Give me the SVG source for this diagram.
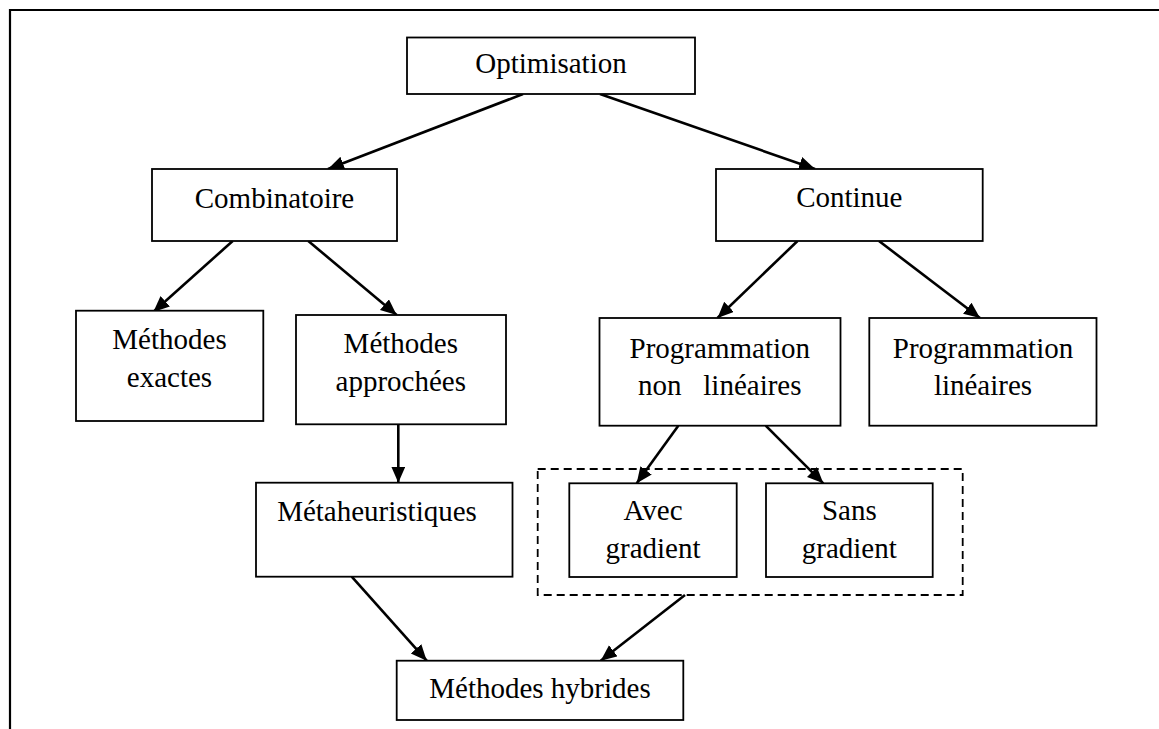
<svg xmlns="http://www.w3.org/2000/svg" width="1159" height="729" viewBox="0 0 1159 729">
<style>
.box{fill:#fff;stroke:#000;stroke-width:1.8}
.dash{fill:none;stroke:#000;stroke-width:1.8;stroke-dasharray:8 5}
.lbl{font-family:"Liberation Serif","Times New Roman",serif;font-size:29px;fill:#000;text-anchor:middle}
.arr{stroke:#000;stroke-width:2.6;fill:none;marker-end:url(#ah)}
.frame{stroke:#000;stroke-width:2.2;fill:none}
</style>
<defs>
<marker id="ah" markerUnits="userSpaceOnUse" markerWidth="18" markerHeight="16" refX="16" refY="7" orient="auto">
<path d="M0,0 L16,7 L0,14 z" fill="#000"/>
</marker>
</defs>
<rect width="1159" height="729" fill="#fff"/>
<path class="frame" d="M10,729 L10,10 L1159,10"/>
<g id="groupe-gradient">
<rect class="dash" x="537.7" y="469" width="425" height="126"/>
</g>
<g id="connectors">
<line class="arr" x1="523" y1="94" x2="328" y2="169"/>
<line class="arr" x1="600" y1="94" x2="815" y2="169"/>
<line class="arr" x1="232.7" y1="241" x2="153.3" y2="312"/>
<line class="arr" x1="308.3" y1="241" x2="396.7" y2="315"/>
<line class="arr" x1="797.5" y1="241" x2="717.5" y2="318"/>
<line class="arr" x1="879" y1="241" x2="980" y2="318"/>
<line class="arr" x1="398.3" y1="424.3" x2="398.3" y2="482.7"/>
<line class="arr" x1="678.3" y1="425.7" x2="636.7" y2="483.3"/>
<line class="arr" x1="765.7" y1="425.7" x2="823.3" y2="483.3"/>
<line class="arr" x1="351.7" y1="576.7" x2="426.7" y2="660.7"/>
<line class="arr" x1="685" y1="595" x2="600.7" y2="660.7"/>
</g>
<g id="optimisation">
<rect class="box" x="407" y="37.5" width="288" height="56.5"/>
<text class="lbl" x="551" y="73">Optimisation</text>
</g>
<g id="combinatoire">
<rect class="box" x="152" y="169" width="245" height="72"/>
<text class="lbl" x="274.5" y="207.5">Combinatoire</text>
</g>
<g id="continue">
<rect class="box" x="716" y="169" width="266.7" height="72"/>
<text class="lbl" x="849.3" y="207">Continue</text>
</g>
<g id="methodes-exactes">
<rect class="box" x="76" y="310.7" width="187.3" height="110.3"/>
<text class="lbl" x="169.5" y="349">Méthodes</text>
<text class="lbl" x="169.5" y="386.5">exactes</text>
</g>
<g id="methodes-approchees">
<rect class="box" x="296" y="315" width="210" height="109.3"/>
<text class="lbl" x="400.8" y="353">Méthodes</text>
<text class="lbl" x="400.8" y="390.5">approchées</text>
</g>
<g id="prog-non-lineaires">
<rect class="box" x="599.5" y="318" width="241" height="107.7"/>
<text class="lbl" x="719.8" y="357.5">Programmation</text>
<text class="lbl" x="719.8" y="395" xml:space="preserve">non   linéaires</text>
</g>
<g id="prog-lineaires">
<rect class="box" x="869.3" y="318" width="227.2" height="107.7"/>
<text class="lbl" x="983" y="357.5">Programmation</text>
<text class="lbl" x="983" y="395">linéaires</text>
</g>
<g id="metaheuristiques">
<rect class="box" x="256" y="482.7" width="256.5" height="94"/>
<text class="lbl" x="377" y="520.7">Métaheuristiques</text>
</g>
<g id="avec-gradient">
<rect class="box" x="569.3" y="483.3" width="167.4" height="93.7"/>
<text class="lbl" x="653" y="520">Avec</text>
<text class="lbl" x="653" y="557.7">gradient</text>
</g>
<g id="sans-gradient">
<rect class="box" x="766" y="483.3" width="166.7" height="93.7"/>
<text class="lbl" x="849.3" y="520">Sans</text>
<text class="lbl" x="849.3" y="557.7">gradient</text>
</g>
<g id="methodes-hybrides">
<rect class="box" x="396.7" y="660.7" width="286.6" height="59.3"/>
<text class="lbl" x="540" y="698">Méthodes hybrides</text>
</g>
</svg>
